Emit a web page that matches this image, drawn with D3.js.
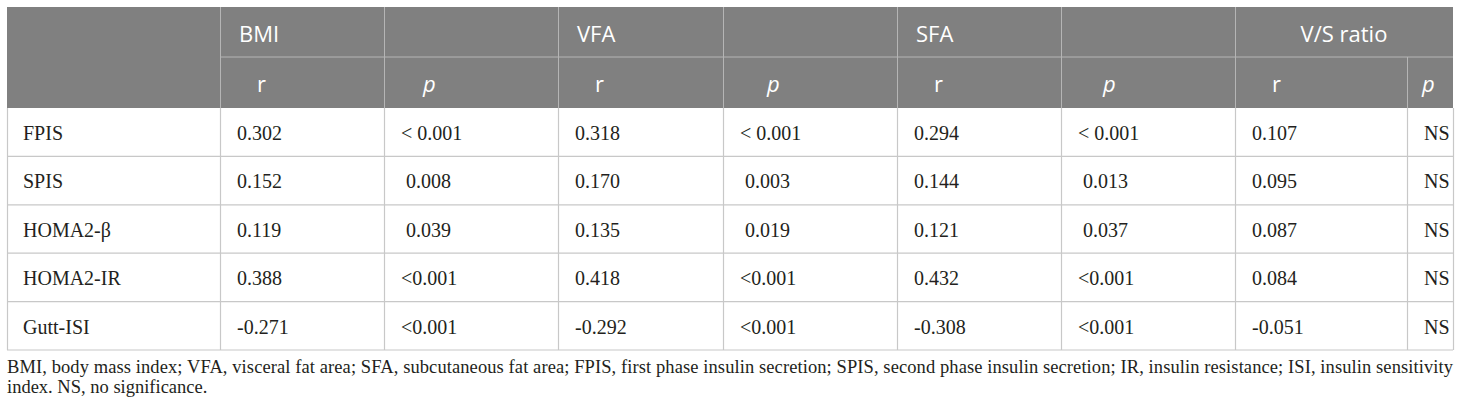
<!DOCTYPE html>
<html>
<head>
<meta charset="utf-8">
<script src="https://d3js.org/d3.v7.min.js"></script>
<style>
  body { margin: 0; background: #fff; }
  svg text { white-space: pre; }
</style>
</head>
<body>
<svg id="tbl" width="1460" height="412"></svg>
<script>
const rowLabels = ["FPIS", "SPIS", "HOMA2-β", "HOMA2-IR", "Gutt-ISI"];
const groupLabels = ["BMI", "VFA", "SFA", "V/S ratio"];
const subLabels = ["r", "p"];

const bmiR = [0.302, 0.152, 0.119, 0.388, -0.271];
const bmiP = ["< 0.001", " 0.008", " 0.039", "<0.001", "<0.001"];
const vfaR = [0.318, 0.170, 0.135, 0.418, -0.292];
const vfaP = ["< 0.001", " 0.003", " 0.019", "<0.001", "<0.001"];
const sfaR = [0.294, 0.144, 0.121, 0.432, -0.308];
const sfaP = ["< 0.001", " 0.013", " 0.037", "<0.001", "<0.001"];
const vsR = [0.107, 0.095, 0.087, 0.084, -0.051];
const vsP = ["NS", "NS", "NS", "NS", "NS"];

const footnote = [
  "BMI, body mass index; VFA, visceral fat area; SFA, subcutaneous fat area; FPIS, first phase insulin secretion; SPIS, second phase insulin secretion; IR, insulin resistance; ISI, insulin sensitivity",
  "index. NS, no significance."
];

// ---- layout ----
const left = 7, right = 1453;
const colWidths = [213, 164, 174, 165, 174, 164, 174, 172, 46];
const colEdges = [left].concat(Array.from(d3.cumsum(colWidths), d => left + d));
const headTop = 7, headMid = 57, headBottom = 108, tableBottom = 350;
const subOffsets = [37, 39, 37, 44, 37, 42, 37, 15];

const svg = d3.select("svg#tbl");
const fmt = d3.formatLocale({decimal: ".", thousands: ",", grouping: [3], currency: ["", ""], minus: "-"}).format(".3f");

const y = d3.scaleBand().domain(rowLabels).range([headBottom, tableBottom]);

// columns: label + 8 value columns
const columns = [bmiR, bmiP, vfaR, vfaP, sfaR, sfaP, vsR, vsP];

// header background
svg.append("rect")
  .attr("x", left).attr("y", headTop)
  .attr("width", right - left).attr("height", headBottom - headTop)
  .attr("fill", "#808080");

// header grid
const hg = svg.append("g").attr("stroke", "#b5b5b5").attr("stroke-width", 1);
hg.append("line")
  .attr("x1", colEdges[1]).attr("x2", right)
  .attr("y1", headMid).attr("y2", headMid);
colEdges.slice(1, 9).forEach((x, i) => {
  hg.append("line")
    .attr("x1", x + 0.5).attr("x2", x + 0.5)
    .attr("y1", i === 7 ? headMid : headTop).attr("y2", headBottom);
});

// body grid
const bg = svg.append("g").attr("stroke", "#c8c8c8").attr("stroke-width", 1.2);
rowLabels.forEach(r => {
  bg.append("line")
    .attr("x1", left).attr("x2", right)
    .attr("y1", y(r) + y.bandwidth()).attr("y2", y(r) + y.bandwidth());
});
colEdges.forEach(x => {
  bg.append("line")
    .attr("x1", x + 0.5).attr("x2", x + 0.5)
    .attr("y1", headBottom).attr("y2", tableBottom);
});

// header text
const headFont = "'Open Sans', sans-serif";
groupLabels.forEach((g, i) => {
  const c = 1 + i * 2;
  const last = i === groupLabels.length - 1;
  svg.append("text")
    .attr("x", last ? (colEdges[c] + colEdges[c + 2]) / 2 : colEdges[c] + 19)
    .attr("y", headTop + 35)
    .attr("text-anchor", last ? "middle" : "start")
    .attr("font-family", headFont).attr("font-size", 22)
    .attr("fill", "#fff")
    .text(g);
});
columns.forEach((col, i) => {
  svg.append("text")
    .attr("x", colEdges[i + 1] + subOffsets[i])
    .attr("y", headMid + 35)
    .attr("font-family", headFont).attr("font-size", 22)
    .attr("font-style", i % 2 ? "italic" : "normal")
    .attr("fill", "#fff")
    .text(subLabels[i % 2]);
});

// body text
const bodyFont = "'Liberation Serif', 'Times New Roman', serif";
const body = svg.append("g")
  .attr("font-family", bodyFont).attr("font-size", 20).attr("fill", "#231f20");
rowLabels.forEach((r, ri) => {
  body.append("text")
    .attr("x", colEdges[0] + 16)
    .attr("y", y(r) + 32)
    .text(r);
  columns.forEach((col, ci) => {
    const v = col[ri];
    body.append("text")
      .attr("x", colEdges[ci + 1] + 17)
      .attr("y", y(r) + 32)
      .text(typeof v === "number" ? fmt(v) : v);
  });
});

// footnote
svg.append("g")
  .attr("font-family", bodyFont).attr("font-size", 18.5).attr("fill", "#231f20")
  .selectAll("text").data(footnote).join("text")
  .attr("x", left)
  .attr("y", (d, i) => 373 + i * 19.5)
  .attr("textLength", (d, i) => i === 0 ? right - left : null)
  .attr("lengthAdjust", "spacing")
  .text(d => d);
</script>
</body>
</html>
